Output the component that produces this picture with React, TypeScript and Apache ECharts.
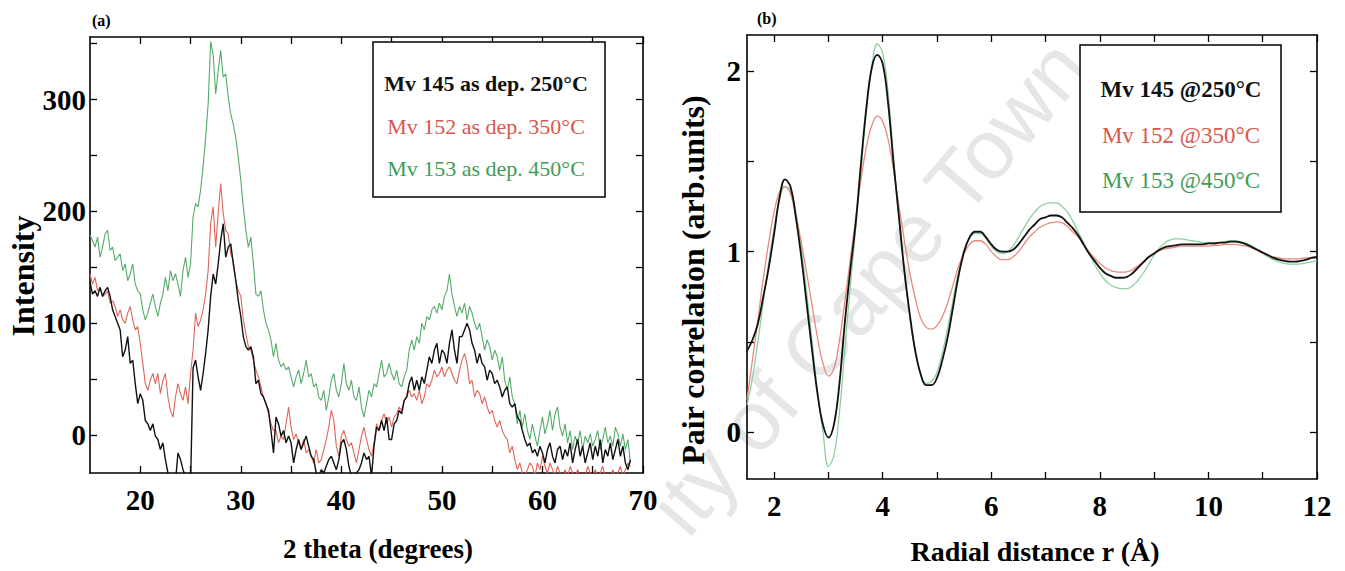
import React, { useEffect, useRef } from "react";
import * as echarts from "echarts";

// ---------- Panel (a): XRD, 2 theta from 15 in steps of 0.25 ----------
const thetaStart = 15;
const thetaStep = 0.25;

const mv145Xrd = [
  137, 126, 129, 124, 132, 124, 129, 132,
  124, 112, 106, 100, 94, 70, 76, 88,
  64, 67, 46, 28, 37, 31, 13, 10,
  4, 10, -1, -4, -13, -7, -22, -34,
  -45, -50, -42, -16, -22, -31, -37, -45,
  -45, 60, 67, 52, 40, 55, 73, 94,
  124, 144, 135, 153, 174, 189, 159, 168,
  171, 153, 138, 120, 106, 88, 79, 76,
  79, 70, 46, 49, 37, 34, 28, 22,
  4, -16, 16, 10, -1, 4, -7, -1,
  -7, -25, -13, -4, -13, -7, -1, -10,
  -19, -22, -34, -37, -31, -34, -28, -22,
  -19, -25, -31, -22, -7, -4, -13, -28,
  -37, -36, -34, -31, -25, -16, -22, -19,
  -37, -10, 7, 4, 13, 4, 16, -4,
  -4, 10, 13, 22, 19, 31, 34, 46,
  52, 40, 49, 40, 52, 46, 58, 70,
  64, 76, 82, 64, 76, 73, 64, 82,
  94, 76, 64, 88, 88, 94, 100, 94,
  82, 76, 64, 73, 64, 61, 49, 58,
  55, 46, 49, 43, 34, 40, 43, 28,
  25, 28, 16, 13, 4, -4, -10, -7,
  -16, -13, -19, -10, -16, -25, -13, -7,
  -19, -25, -13, -10, -22, -13, -19, -7,
  -25, -13, -4, -19, -10, -25, -16, -7,
  -22, -10, -19, -4, -25, -13, -19, -7,
  -22, -13, -4, -19, -10, -25, -31, -22,
];

const mv152Xrd = [
  144, 135, 141, 129, 132, 124, 126, 129,
  118, 120, 115, 106, 112, 103, 100, 109,
  115, 103, 94, 97, 82, 64, 46, 40,
  49, 55, 46, 55, 37, 49, 55, 34,
  22, 16, 34, 46, 37, 31, 43, 28,
  55, 76, 109, 97, 103, 112, 126, 147,
  189, 204, 168, 199, 225, 198, 183, 180,
  162, 156, 138, 129, 124, 103, 91, 79,
  76, 67, 58, 52, 43, 34, 28, 19,
  10, 4, 4, -7, -1, -4, 10, 25,
  7, -4, 1, -7, -13, -4, -16, -13,
  -19, -25, -13, -25, -22, -13, -4, 7,
  22, 13, -10, -19, -1, 4, -4, -10,
  -7, -16, -25, -13, -1, 7, -4, -13,
  -19, -7, 10, 4, 13, 19, 10, 16,
  7, 16, 19, 25, 22, 31, 34, 40,
  34, 37, 31, 40, 28, 34, 46, 43,
  49, 58, 52, 55, 61, 52, 58, 61,
  55, 49, 46, 58, 67, 73, 64, 46,
  49, 34, 40, 37, 28, 34, 25, 19,
  22, 13, 7, 13, 4, -1, -4, -16,
  -10, -22, -31, -25, -34, -37, -31, -25,
  -28, -37, -25, -31, -19, -28, -34, -25,
  -31, -37, -28, -34, -37, -31, -37, -28,
  -34, -37, -31, -37, -34, -37, -28, -34,
  -37, -31, -37, -34, -28, -37, -34, -37,
  -31, -37, -34, -28, -37, -31, -25, -28,
];

const mv153Xrd = [
  179, 174, 168, 177, 159, 168, 180, 183,
  165, 168, 156, 159, 162, 147, 153, 138,
  144, 153, 135, 129, 126, 112, 103, 109,
  118, 126, 115, 106, 118, 126, 141, 129,
  147, 138, 144, 135, 124, 147, 159, 141,
  153, 195, 207, 204, 219, 240, 266, 296,
  352, 340, 305, 326, 344, 320, 323, 302,
  287, 278, 266, 248, 228, 204, 183, 168,
  177, 153, 126, 124, 129, 112, 100, 94,
  85, 70, 82, 67, 61, 64, 58, 61,
  52, 43, 52, 58, 46, 55, 67, 52,
  55, 43, 46, 34, 31, 40, 22, 34,
  49, 55, 40, 34, 46, 64, 46, 40,
  49, 34, 31, 43, 25, 16, 28, 40,
  34, 46, 43, 55, 67, 52, 55, 64,
  55, 49, 58, 46, 43, 52, 58, 76,
  85, 76, 88, 82, 100, 94, 106, 103,
  112, 115, 109, 118, 112, 124, 129, 144,
  126, 115, 106, 115, 109, 118, 103, 115,
  109, 100, 94, 100, 88, 76, 85, 79,
  67, 76, 70, 58, 70, 49, 40, 52,
  34, 28, 10, 22, 7, 19, 4, -4,
  10, -1, -10, 4, 16, 1, 10, 22,
  4, 19, 25, 7, -1, 10, -7, 4,
  -13, -1, -7, 4, -13, -1, -7, 1,
  -10, -4, 4, -13, -4, 7, -7, -1,
  -10, 7, 1, -10, 1, -13, -4, -25,
];

const xrdXTicks = [20, 25, 30, 35, 40, 45, 50, 55, 60, 65, 70];
const xrdXLabels = [20, 30, 40, 50, 60, 70];
const xrdYTicks = [0, 50, 100, 150, 200, 250, 300, 350];
const xrdYLabels = [0, 100, 200, 300];
const xrdLegend = ["Mv 145 as dep. 250°C", "Mv 152 as dep. 350°C", "Mv 153 as dep. 450°C"];

// ---------- Panel (b): pair correlation, r from 1.5 in steps of 0.1 ----------
const rStart = 1.5;
const rStep = 0.1;

const mv145Pdf = [
  0.45, 0.51, 0.6, 0.75, 0.91, 1.1, 1.3, 1.4, 1.36, 1.19,
  0.97, 0.71, 0.45, 0.21, 0.04, -0.03, 0.04, 0.26, 0.6, 0.89,
  1.15, 1.49, 1.8, 2.02, 2.09, 2.04, 1.82, 1.49, 1.19, 0.89,
  0.65, 0.45, 0.32, 0.26, 0.26, 0.3, 0.4, 0.53, 0.7, 0.87,
  1.0, 1.08, 1.11, 1.11, 1.08, 1.04, 1.01, 1.0, 1.0, 1.01,
  1.04, 1.08, 1.12, 1.15, 1.18, 1.19, 1.2, 1.2, 1.19, 1.16,
  1.13, 1.09, 1.04, 0.99, 0.95, 0.91, 0.88, 0.865, 0.855, 0.855,
  0.86, 0.88, 0.91, 0.94, 0.97, 0.99, 1.01, 1.025, 1.03, 1.035,
  1.04, 1.04, 1.04, 1.04, 1.04, 1.045, 1.045, 1.05, 1.05, 1.055,
  1.055, 1.05, 1.04, 1.025, 1.01, 0.995, 0.98, 0.965, 0.955, 0.948,
  0.944, 0.944, 0.948, 0.955, 0.965, 0.97,
];

const mv152Pdf = [
  0.18, 0.4, 0.62, 0.85, 1.05, 1.22, 1.33, 1.36, 1.32, 1.2,
  1.05, 0.88, 0.7, 0.52, 0.38, 0.31, 0.35, 0.5, 0.72, 0.95,
  1.18, 1.4, 1.58, 1.7, 1.75, 1.72, 1.62, 1.45, 1.25, 1.06,
  0.88, 0.74, 0.63, 0.58, 0.57, 0.59, 0.64, 0.72, 0.82, 0.92,
  0.99, 1.04, 1.06, 1.06, 1.04, 1.0, 0.97, 0.955, 0.955, 0.97,
  1.0, 1.04, 1.08, 1.11, 1.135, 1.15, 1.16, 1.165, 1.16, 1.14,
  1.11, 1.08, 1.04, 1.0, 0.965, 0.935, 0.91, 0.895, 0.888, 0.886,
  0.888, 0.9, 0.92, 0.945, 0.97, 0.99, 1.005, 1.015, 1.02, 1.025,
  1.03, 1.03, 1.03, 1.03, 1.03, 1.03, 1.035, 1.035, 1.04, 1.04,
  1.04, 1.035, 1.03, 1.02, 1.005, 0.99, 0.98, 0.97, 0.965, 0.96,
  0.96, 0.96, 0.962, 0.965, 0.968, 0.97,
];

const mv153Pdf = [
  0.15, 0.3, 0.5, 0.72, 0.94, 1.13, 1.29, 1.36, 1.34, 1.22,
  1.02, 0.77, 0.5, 0.22, 0.0, -0.19, -0.13, 0.1, 0.45, 0.8,
  1.12, 1.45, 1.78, 2.03, 2.15, 2.1, 1.88, 1.52, 1.18, 0.88,
  0.63, 0.44, 0.32, 0.27, 0.28, 0.33, 0.44, 0.58, 0.74, 0.89,
  1.01, 1.07, 1.1, 1.1, 1.07, 1.03, 1.0, 0.99, 1.0, 1.03,
  1.08, 1.13, 1.18, 1.22, 1.25, 1.265, 1.27, 1.27, 1.25, 1.22,
  1.17, 1.11, 1.05, 0.99, 0.93, 0.88, 0.84, 0.815, 0.8, 0.795,
  0.795, 0.81, 0.84, 0.88, 0.93, 0.98, 1.02, 1.05, 1.065, 1.07,
  1.07, 1.065, 1.06, 1.055, 1.05, 1.05, 1.05, 1.05, 1.055, 1.06,
  1.06, 1.055, 1.045, 1.03, 1.01, 0.99, 0.97, 0.955, 0.943, 0.935,
  0.93, 0.93, 0.932, 0.937, 0.943, 0.947,
];

const pdfXTicks = [2, 3, 4, 5, 6, 7, 8, 9, 10, 11, 12];
const pdfXLabels = [2, 4, 6, 8, 10, 12];
const pdfYTicks = [0, 0.5, 1, 1.5, 2];
const pdfYLabels = [0, 1, 2];
const pdfLegend = ["Mv 145 @250°C", "Mv 152 @350°C", "Mv 153 @450°C"];

// ---------- styling ----------
const SERIF = "Liberation Serif";
const SANS = "Liberation Sans";
const lineColorsA = ["#111111", "#e0655b", "#55ab69"];
const lineColorsB = ["#111111", "#e8897f", "#8dd09e"];
const textColors = ["#111111", "#d9574d", "#3f9c57"];

const toPairs = (vals: number[], start: number, step: number) =>
  vals.map((v, i) => [Number((start + i * step).toFixed(3)), v]);

const tickLabel = {
  fontSize: 29,
  fontWeight: "bold" as const,
  fontFamily: SERIF,
  color: "#000",
};

function makeX(grid: number, min: number, max: number, ticks: number[], labels: number[], pos: "bottom" | "top") {
  return {
    type: "value",
    gridIndex: grid,
    min,
    max,
    position: pos,
    axisLine: { show: true, onZero: false, lineStyle: { color: "#000", width: 1.6 } },
    axisTick: { show: true, inside: true, length: 7, customValues: ticks, lineStyle: { color: "#000", width: 1.3 } },
    axisLabel: pos === "bottom" ? { ...tickLabel, customValues: labels, margin: 12 } : { show: false },
    splitLine: { show: false },
  };
}

function makeY(grid: number, min: number, max: number, ticks: number[], labels: number[], pos: "left" | "right", margin: number) {
  return {
    type: "value",
    gridIndex: grid,
    min,
    max,
    position: pos,
    axisLine: { show: true, onZero: false, lineStyle: { color: "#000", width: 1.6 } },
    axisTick: { show: true, inside: true, length: 7, customValues: ticks, lineStyle: { color: "#000", width: 1.3 } },
    axisLabel: pos === "left" ? { ...tickLabel, customValues: labels, margin } : { show: false },
    splitLine: { show: false },
  };
}

function txt(
  text: string,
  x: number,
  y: number,
  size: number,
  weight: string,
  family: string,
  fill: string,
  opts: any = {}
) {
  return {
    type: "text",
    x,
    y,
    rotation: opts.rotation || 0,
    z: opts.z ?? 50,
    silent: true,
    style: {
      text,
      fontSize: size,
      fontWeight: weight,
      fontFamily: family,
      fill,
      textAlign: opts.align || "center",
      textVerticalAlign: opts.valign || "middle",
      align: opts.align || "center",
      verticalAlign: opts.valign || "middle",
    },
  };
}

export default function App() {
  const ref = useRef<HTMLDivElement>(null);

  useEffect(() => {
    if (!ref.current) return;
    const chart = echarts.init(ref.current, null, { renderer: "svg" });

    const xrdSeries = [mv145Xrd, mv152Xrd, mv153Xrd];
    const pdfSeries = [mv145Pdf, mv152Pdf, mv153Pdf];
    const order = [2, 1, 0];

    const series: any[] = [];
    order.forEach((i) => {
      series.push({
        type: "line",
        name: xrdLegend[i],
        xAxisIndex: 0,
        yAxisIndex: 0,
        data: toPairs(xrdSeries[i], thetaStart, thetaStep),
        showSymbol: false,
        symbol: "none",
        lineStyle: { color: lineColorsA[i], width: i === 0 ? 1.4 : 1.1 },
        z: 3 + (2 - i),
      });
    });
    order.forEach((i) => {
      series.push({
        type: "line",
        name: pdfLegend[i],
        xAxisIndex: 2,
        yAxisIndex: 2,
        data: toPairs(pdfSeries[i], rStart, rStep),
        showSymbol: false,
        symbol: "none",
        smooth: 0.4,
        lineStyle: { color: lineColorsB[i], width: i === 0 ? 1.8 : 1.3 },
        z: 3 + (2 - i),
      });
    });

    const graphic: any[] = [
      // faint repository watermark
      txt("ity of Cape Town", 1070, 52, 84, "normal", SANS, "#e6e6e6", {
        rotation: 0.86,
        align: "right",
        valign: "middle",
        z: 0,
      }),
      txt("(a)", 92, 20, 16, "bold", SERIF, "#000", { align: "left" }),
      txt("(b)", 757, 18, 16, "bold", SERIF, "#000", { align: "left" }),
      txt("Intensity", 23, 276, 32, "bold", SERIF, "#000", { rotation: Math.PI / 2 }),
      txt("2 theta (degrees)", 378, 549, 27, "bold", SERIF, "#000"),
      txt("Pair correlation (arb.units)", 693, 280, 32, "bold", SERIF, "#000", { rotation: Math.PI / 2 }),
      txt("Radial distance r (Å)", 1035, 551, 28, "bold", SERIF, "#000"),
      {
        type: "rect",
        z: 60,
        silent: true,
        shape: { x: 373, y: 42, width: 232, height: 155 },
        style: { fill: "#fff", stroke: "#000", lineWidth: 1.5 },
      },
      {
        type: "rect",
        z: 60,
        silent: true,
        shape: { x: 1080, y: 45, width: 201, height: 167 },
        style: { fill: "#fff", stroke: "#000", lineWidth: 1.5 },
      },
    ];
    const legYA = [83, 126, 168];
    const legYB = [89, 135, 180];
    xrdLegend.forEach((t, i) =>
      graphic.push(txt(t, 486, legYA[i], 22, i === 0 ? "bold" : "normal", SERIF, textColors[i], { z: 61 }))
    );
    pdfLegend.forEach((t, i) =>
      graphic.push(txt(t, 1181, legYB[i], 23, i === 0 ? "bold" : "normal", SERIF, textColors[i], { z: 61 }))
    );

    chart.setOption({
      animation: false,
      backgroundColor: "#ffffff",
      grid: [
        { left: 90, top: 37, width: 553, height: 436, containLabel: false },
        { left: 747, top: 35, width: 570, height: 444, containLabel: false },
      ],
      xAxis: [
        makeX(0, 15, 70, xrdXTicks, xrdXLabels, "bottom"),
        makeX(0, 15, 70, xrdXTicks, xrdXLabels, "top"),
        makeX(1, 1.5, 12, pdfXTicks, pdfXLabels, "bottom"),
        makeX(1, 1.5, 12, pdfXTicks, pdfXLabels, "top"),
      ],
      yAxis: [
        makeY(0, -34, 356, xrdYTicks, xrdYLabels, "left", 4),
        makeY(0, -34, 356, xrdYTicks, xrdYLabels, "right", 4),
        makeY(1, -0.26, 2.2, pdfYTicks, pdfYLabels, "left", 6),
        makeY(1, -0.26, 2.2, pdfYTicks, pdfYLabels, "right", 6),
      ],
      series,
      graphic,
    });

    return () => chart.dispose();
  }, []);

  return (
    <div
      ref={ref}
      style={{ position: "fixed", left: 0, top: 0, width: 1345, height: 571, background: "#fff" }}
    />
  );
}
